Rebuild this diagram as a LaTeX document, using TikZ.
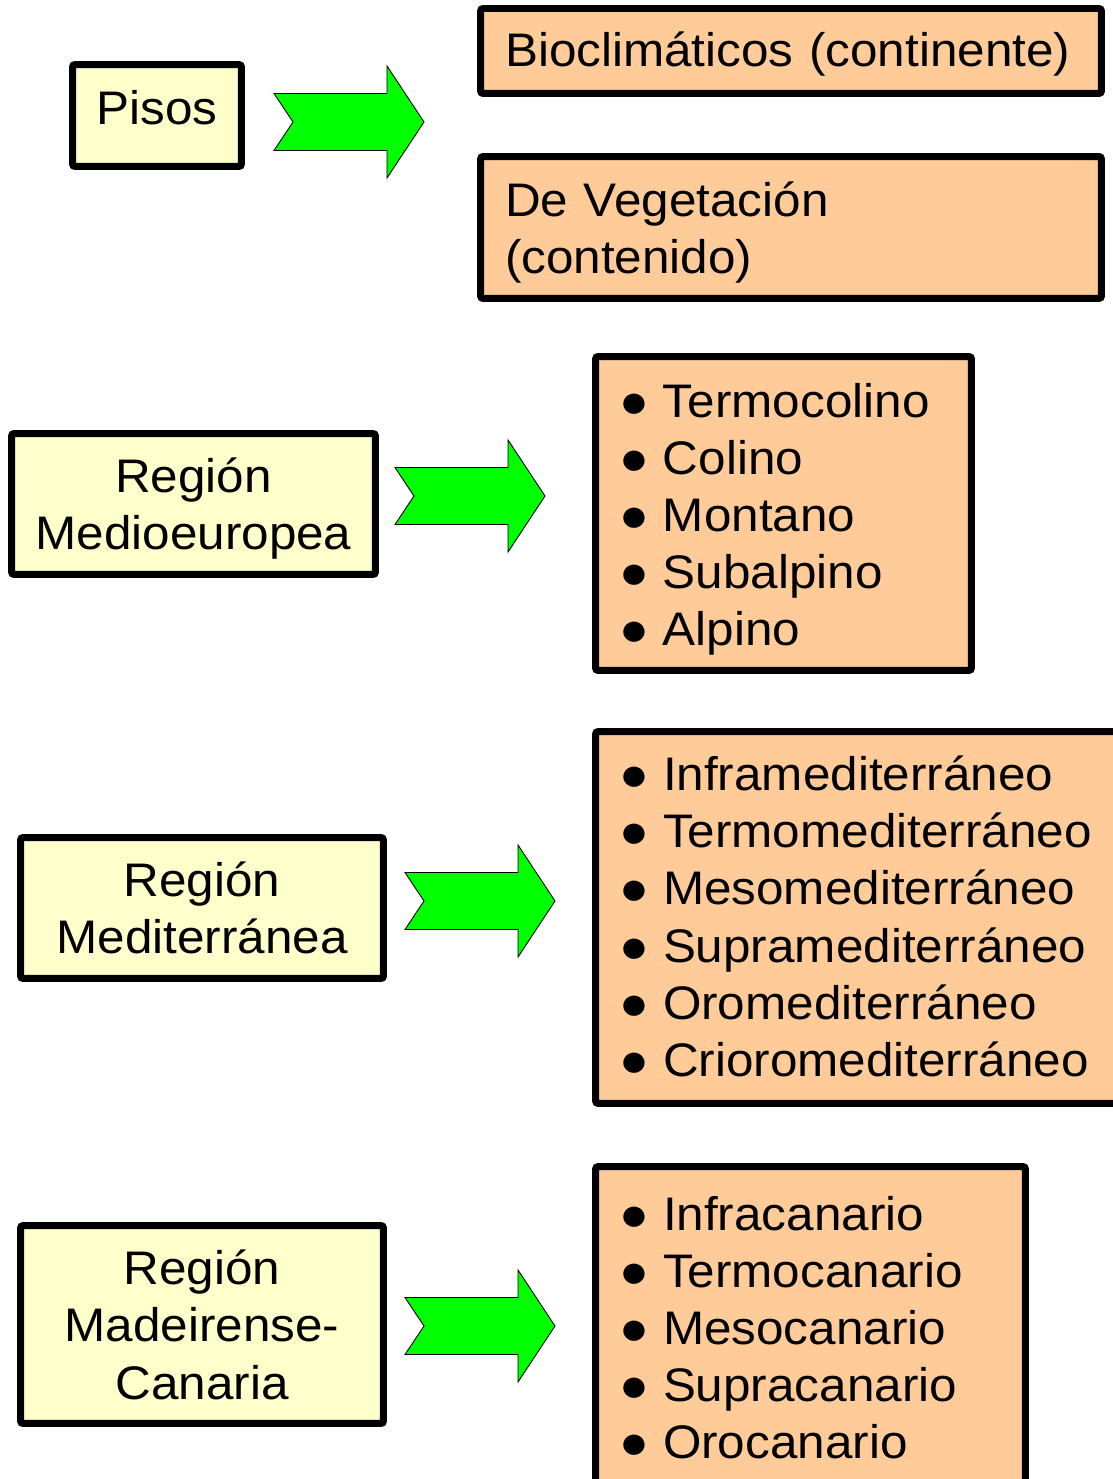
\documentclass[tikz,border=0pt]{standalone}
\usepackage{fontspec}
\setmainfont{Liberation Sans}[FakeStretch=1.05]

\definecolor{regionfill}{RGB}{255,255,204}
\definecolor{pisofill}{RGB}{255,204,153}
\definecolor{arrowgreen}{RGB}{0,255,0}

\newcommand{\bul}{\hspace*{-0.08cm}\makebox[0.88cm][l]{●}}

\tikzset{
  box/.style={draw=black, line width=0.14cm, rounded corners=1.5pt, inner sep=0pt,
    font=\fontsize{26.8}{32.5}\selectfont},
  regionbox/.style={box, fill=regionfill, align=center},
  pisobox/.style={box, fill=pisofill, align=left},
  greenarrow/.pic={
    \draw[fill=arrowgreen, line width=0.5pt, line join=miter]
      (0,-28.5) -- (113,-28.5) -- (113,-56) -- (150,0) -- (113,56)
      -- (113,28.5) -- (0,28.5) -- (19,0) -- cycle;
  }
}

\begin{document}
\begin{tikzpicture}[x=0.02cm, y=-0.02cm]
  \useasboundingbox (0,0) rectangle (1112,1479);

  % Pisos and its two kinds
  \node[regionbox, minimum width=3.38cm, minimum height=2.04cm, text height=0.38cm, text depth=0cm] (pisos) at (157,115.5) {Pisos};
  \node[pisobox, minimum width=12.42cm, minimum height=1.70cm, text width=11.44cm, text height=0.64cm, text depth=0cm] (bioclim) at (791,51) {Bioclimáticos (continente)};
  \node[pisobox, minimum width=12.42cm, minimum height=2.84cm, text width=11.44cm, text height=0cm, text depth=0.43cm] (vegetacion) at (791,227.5) {De Vegetación\\(contenido)};

  % Regions
  \node[regionbox, minimum width=7.28cm, minimum height=2.82cm, text height=1.84cm, text depth=0cm] (medioeur) at (193.5,504) {Región\\Medioeuropea};
  \node[regionbox, minimum width=7.26cm, minimum height=2.82cm, text height=1.81cm, text depth=0cm] (mediterr) at (202,908) {Región\\Mediterránea};
  \node[regionbox, minimum width=7.26cm, minimum height=3.96cm, text height=2.98cm, text depth=0cm] (madeira) at (202,1324.5) {Región\\Madeirense-\\Canaria};

  % Lists of pisos for each region
  \node[pisobox, minimum width=7.52cm, minimum height=6.28cm, text width=6.42cm, text height=0cm, text depth=3.86cm] (pisosmedio) at (783.5,513.5)
    {\bul Termocolino\\\bul Colino\\\bul Montano\\\bul Subalpino\\\bul Alpino};
  \node[pisobox, minimum width=10.62cm, minimum height=7.44cm, text width=9.52cm, text height=0cm, text depth=5.07cm] (pisosmedit) at (861,917.5)
    {\bul Inframediterráneo\\\bul Termomediterráneo\\\bul Mesomediterráneo\\\bul Supramediterráneo\\\bul Oromediterráneo\\\bul Crioromediterráneo};
  \node[pisobox, minimum width=8.6cm, minimum height=6.42cm, text width=7.5cm, text height=0cm, text depth=3.86cm] (pisoscan) at (810.5,1327)
    {\bul Infracanario\\\bul Termocanario\\\bul Mesocanario\\\bul Supracanario\\\bul Orocanario};

  % Green arrows
  \coordinate (arr1) at (274,122);
  \coordinate (arr2) at (395,496);
  \coordinate (arr3) at (405,901);
  \coordinate (arr4) at (405,1326);
  \foreach \a in {arr1,arr2,arr3,arr4} {
    \pic at (\a) {greenarrow};
  }
\end{tikzpicture}
\end{document}
